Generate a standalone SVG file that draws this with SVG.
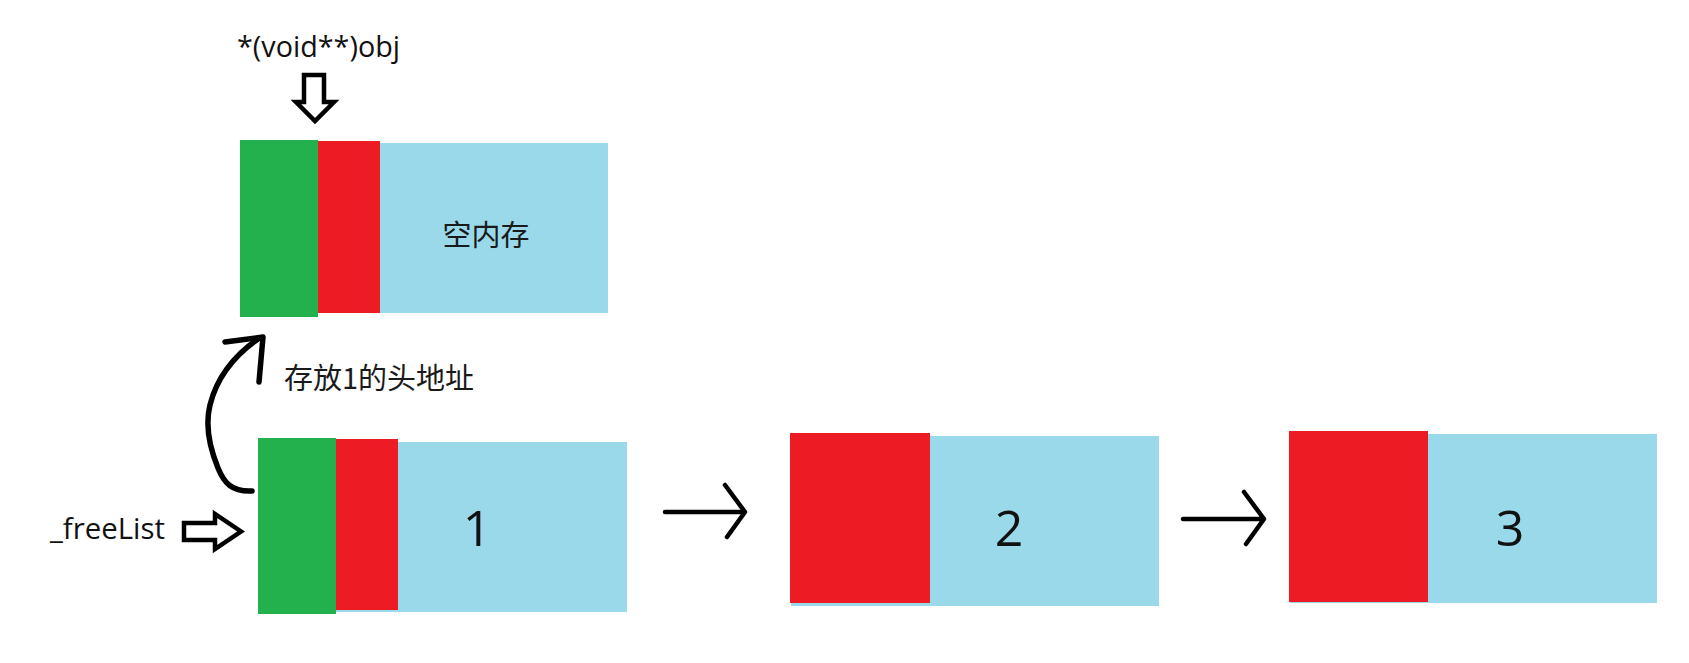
<svg xmlns="http://www.w3.org/2000/svg" width="1689" height="663" viewBox="0 0 1689 663">
<style>
.g{fill:#22B14C}
.r{fill:#ED1C24}
.b{fill:#99D9EA}
.t{font-family:"Open Sans","Noto Sans CJK SC",sans-serif;fill:#111}
.cjk{font-family:"Noto Sans CJK SC","Open Sans",sans-serif;fill:#1a1a1a}
.ln{fill:none;stroke:#000;stroke-width:4.5;stroke-linecap:round;stroke-linejoin:round}
.hol{fill:#fff;stroke:#000;stroke-width:4.5;stroke-linejoin:miter}
</style>
<rect width="1689" height="663" fill="#fff"/>
<g id="label-obj">
<text class="t" x="237" y="57" font-size="29" textLength="163" lengthAdjust="spacingAndGlyphs">*(void**)obj</text>
</g>
<g id="node-top">
<rect class="b" x="318" y="143" width="290" height="170"/>
<rect class="g" x="240" y="140" width="78" height="177"/>
<rect class="r" x="318" y="141" width="62" height="172"/>
<text class="cjk" x="486" y="246" font-size="29" text-anchor="middle">空内存</text>
</g>
<g id="label-head">
<text class="cjk" x="284" y="389" font-size="29">存放1的头地址</text>
</g>
<g id="label-freelist">
<text class="t" x="50" y="539" font-size="30" textLength="115" lengthAdjust="spacingAndGlyphs">_freeList</text>
</g>
<g id="node-1">
<rect class="b" x="336" y="442" width="291" height="170"/>
<rect class="g" x="258" y="438" width="78" height="176"/>
<rect class="r" x="336" y="439" width="62" height="171"/>
<text class="t" x="477" y="546" font-size="50" text-anchor="middle">1</text>
</g>
<g id="node-2">
<rect class="b" x="791" y="436" width="368" height="170"/>
<rect class="r" x="790" y="433" width="140" height="170"/>
<text class="t" x="1009" y="546" font-size="50" text-anchor="middle">2</text>
</g>
<g id="node-3">
<rect class="b" x="1290" y="434" width="367" height="169"/>
<rect class="r" x="1289" y="431" width="139" height="171"/>
<text class="t" x="1510" y="546" font-size="50" text-anchor="middle">3</text>
</g>
<g id="connectors">
<polygon class="hol" points="304,75 324,75 324,102 334,102 315,121 296,102 304,102"/>
<polygon class="hol" points="184,523 215,523 215,514 241,531.5 215,549 215,540 184,540"/>
<path class="ln" style="stroke-width:5.5" d="M252,491 C232,492 224,483 218,468 C209,446 205,425 210,405 C215,385 228,360 258,339"/>
<path class="ln" style="stroke-width:5.5" d="M225,342 L263,337 L259,382"/>
<path class="ln" d="M665,512 L745,512 M725,485 L745,512 L727,537"/>
<path class="ln" d="M1183,519 L1264,519 M1244,492 L1264,519 L1246,544"/>
</g>
</svg>
